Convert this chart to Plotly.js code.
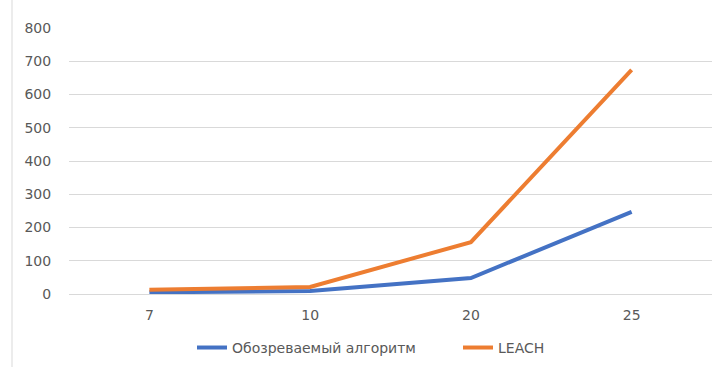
<!DOCTYPE html>
<html>
<head>
<meta charset="utf-8">
<script src="https://cdn.plot.ly/plotly-3.0.1.min.js"></script>
<style>html,body{margin:0;padding:0;background:#fff;}#chart{width:722px;height:367px;}</style>
</head>
<body>
<div id="chart"></div>
<script>
const categories = ['7', '10', '20', '25'];
const seriesNames = ['Обозреваемый алгоритм', 'LEACH'];
const blueValues = [5, 9, 48, 247];
const orangeValues = [13, 21, 156, 674];
const yTicks = [0, 100, 200, 300, 400, 500, 600, 700, 800];

const font = {family: 'DejaVu Sans, sans-serif', size: 14, color: '#595959'};

const traces = [
  {x: categories, y: blueValues, name: seriesNames[0], type: 'scatter', mode: 'lines',
   line: {color: '#4472C4', width: 4}},
  {x: categories, y: orangeValues, name: seriesNames[1], type: 'scatter', mode: 'lines',
   line: {color: '#ED7D31', width: 4}}
];

const layout = {
  width: 722, height: 367,
  margin: {l: 69, r: 10, t: 28, b: 73},
  paper_bgcolor: '#fff', plot_bgcolor: '#fff',
  font: font,
  showlegend: true,
  legend: {orientation: 'h', x: 192/722, xanchor: 'left', xref: 'container',
           y: 0.052, yanchor: 'middle', yref: 'container',
           font: font, itemclick: false, traceorder: 'normal', itemwidth: 30,
           entrywidth: 221},
  xaxis: {type: 'category', categoryorder: 'array', categoryarray: categories,
          showgrid: false, zeroline: false, showline: false, ticks: 'outside', ticklen: 8,
          tickcolor: 'rgba(0,0,0,0)', tickfont: font, range: [-0.5, 3.5]},
  yaxis: {range: [0, 800], tickvals: yTicks, showgrid: true, gridcolor: '#D9D9D9', gridwidth: 1,
          zeroline: true, zerolinecolor: '#D9D9D9', zerolinewidth: 1, showline: false,
          ticks: 'outside', ticklen: 14, tickcolor: 'rgba(0,0,0,0)', tickfont: font},
  shapes: [{type: 'line', xref: 'paper', yref: 'paper', x0: -57/643, x1: -57/643, y0: -1, y1: 2,
            line: {color: '#D9D9D9', width: 1}}]
};

Plotly.newPlot('chart', traces, layout, {displayModeBar: false, staticPlot: true});
</script>
</body>
</html>
